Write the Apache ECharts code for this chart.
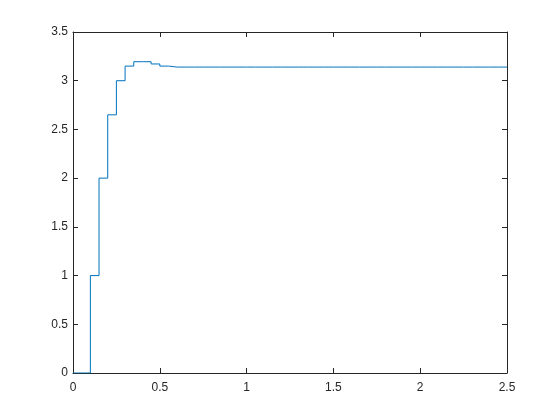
<!DOCTYPE html>
<html>
<head>
<meta charset="utf-8">
<script src="https://cdn.jsdelivr.net/npm/echarts@6/dist/echarts.min.js"></script>
<style>html,body{margin:0;padding:0;background:#fff;}#c{width:560px;height:420px;}</style>
</head>
<body>
<div id="c"></div>
<script>
const times = [0, 0.05, 0.1, 0.15, 0.2, 0.25, 0.3, 0.35, 0.4, 0.45, 0.5, 0.55, 0.6, 0.65, 0.7, 0.75, 0.8, 0.85, 0.9, 0.95,
  1.0, 1.05, 1.1, 1.15, 1.2, 1.25, 1.3, 1.35, 1.4, 1.45, 1.5, 1.55, 1.6, 1.65, 1.7, 1.75, 1.8, 1.85, 1.9, 1.95,
  2.0, 2.05, 2.1, 2.15, 2.2, 2.25, 2.3, 2.35, 2.4, 2.45, 2.5];
const values = [0, 0, 1, 2, 2.65, 3.0, 3.15, 3.195, 3.195, 3.172, 3.15, 3.14, 3.14, 3.14, 3.14, 3.14, 3.14, 3.14, 3.14, 3.14,
  3.14, 3.14, 3.14, 3.14, 3.14, 3.14, 3.14, 3.14, 3.14, 3.14, 3.14, 3.14, 3.14, 3.14, 3.14, 3.14, 3.14, 3.14, 3.14, 3.14,
  3.14, 3.14, 3.14, 3.14, 3.14, 3.14, 3.14, 3.14, 3.14, 3.14, 3.14];
const xTicks = {min: 0, max: 2.5, interval: 0.5};
const yTicks = {min: 0, max: 3.5, interval: 0.5};

const axisColor = '#262626';
const font = {color: axisColor, fontFamily: 'Liberation Sans, Arial, sans-serif', fontSize: 12};
const lineStyle = {color: axisColor, width: 1};
const tick = {show: true, inside: true, length: 5, lineStyle: lineStyle};

const chart = echarts.init(document.getElementById('c'), null, {renderer: 'canvas'});
chart.setOption({
  animation: false,
  backgroundColor: '#fff',
  grid: {left: 73, right: 53, top: 32, bottom: 47, containLabel: false},
  xAxis: [
    {type: 'value', position: 'bottom', min: xTicks.min, max: xTicks.max, interval: xTicks.interval,
     axisLine: {show: true, onZero: false, lineStyle: lineStyle}, axisTick: tick,
     axisLabel: Object.assign({margin: 9}, font), splitLine: {show: false}},
    {type: 'value', position: 'top', min: xTicks.min, max: xTicks.max, interval: xTicks.interval,
     axisLine: {show: true, onZero: false, lineStyle: lineStyle}, axisTick: tick,
     axisLabel: {show: false}, splitLine: {show: false}}
  ],
  yAxis: [
    {type: 'value', position: 'left', min: yTicks.min, max: yTicks.max, interval: yTicks.interval,
     axisLine: {show: true, onZero: false, lineStyle: lineStyle}, axisTick: tick,
     axisLabel: Object.assign({margin: 5}, font), splitLine: {show: false}},
    {type: 'value', position: 'right', min: yTicks.min, max: yTicks.max, interval: yTicks.interval,
     axisLine: {show: true, onZero: false, lineStyle: lineStyle}, axisTick: tick,
     axisLabel: {show: false}, splitLine: {show: false}}
  ],
  series: [{
    type: 'line',
    step: 'end',
    data: times.map((t, i) => [t, values[i]]),
    showSymbol: false,
    symbol: 'none',
    lineStyle: {color: '#0072BD', width: 1},
    clip: true
  }]
});
</script>
</body>
</html>
